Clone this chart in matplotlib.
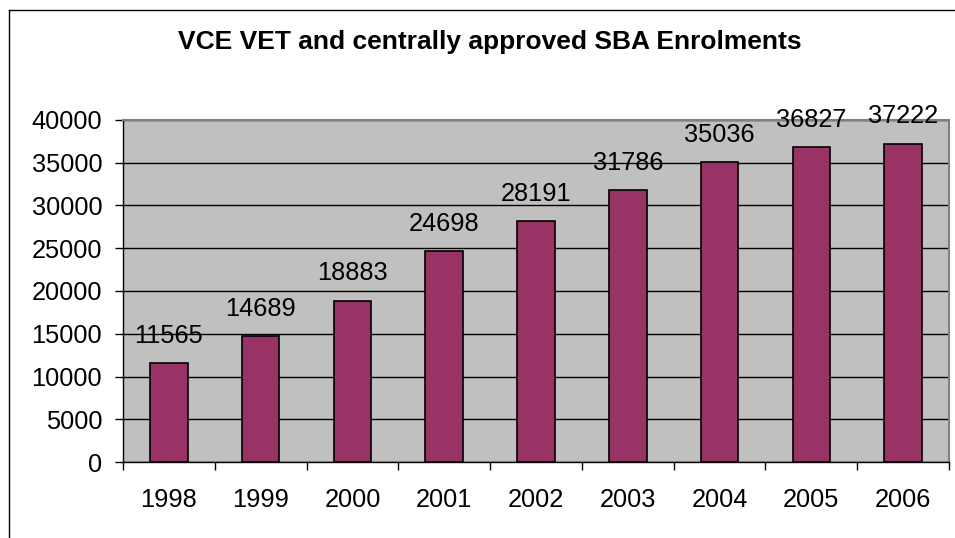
import matplotlib
matplotlib.use("Agg")
import matplotlib.pyplot as plt
from matplotlib.lines import Line2D

# data
years = ["1998", "1999", "2000", "2001", "2002", "2003", "2004", "2005", "2006"]
enrolments = [11565, 14689, 18883, 24698, 28191, 31786, 35036, 36827, 37222]
y_ticks = [0, 5000, 10000, 15000, 20000, 25000, 30000, 35000, 40000]

plt.rcParams['font.family'] = ['Liberation Sans', 'DejaVu Sans']

W, H = 955, 538
fig = plt.figure(figsize=(W / 100, H / 100), dpi=100)
fig.patch.set_facecolor("white")

# plot area placed in pixel terms
left, right, top, bottom = 123, 949, 120, 462
ax = fig.add_axes([left / W, 1 - bottom / H, (right - left) / W, (bottom - top) / H])
ax.set_facecolor("#C0C0C0")

x = list(range(len(years)))
ax.bar(x, enrolments, width=0.41, color="#993366", edgecolor="black", linewidth=1.2, zorder=3)

for xi, v in zip(x, enrolments):
    ax.annotate(str(v), (xi, v), xytext=(0, 11), textcoords="offset points",
                ha="center", va="bottom", fontsize=18.3, color="black")

ax.set_xlim(-0.5, len(years) - 0.5)
ax.set_ylim(0, 40000)
ax.set_yticks(y_ticks)
ax.set_yticklabels([str(t) for t in y_ticks])
ax.yaxis.grid(True, color="black", linewidth=1.0, zorder=0)
ax.set_axisbelow(True)

# category labels centered, ticks at category boundaries
ax.set_xticks(x)
ax.set_xticklabels(years)
ax.tick_params(axis="x", which="major", length=0, pad=19, labelsize=18.3)
ax.set_xticks([i - 0.5 for i in range(len(years) + 1)], minor=True)
ax.tick_params(axis="x", which="minor", length=6, width=1, direction="out")
ax.tick_params(axis="y", length=6, width=1, direction="out", pad=9, labelsize=18.3)

for side in ["top", "right"]:
    ax.spines[side].set_color("#808080")
    ax.spines[side].set_linewidth(1.5)
for side in ["left", "bottom"]:
    ax.spines[side].set_color("black")
    ax.spines[side].set_linewidth(1.0)

fig.text(490 / W, 1 - 42 / H, "VCE VET and centrally approved SBA Enrolments",
         ha="center", va="center", fontsize=19, fontweight="bold")

# chart area border (cut off at right and bottom in the reference)
fig.add_artist(Line2D([9 / W, 9 / W], [0, 1 - 10 / H], transform=fig.transFigure,
                      color="black", linewidth=1.0))
fig.add_artist(Line2D([9 / W, 1], [1 - 10 / H, 1 - 10 / H], transform=fig.transFigure,
                      color="black", linewidth=1.0))

fig.savefig("out.png", dpi=100, facecolor="white")
